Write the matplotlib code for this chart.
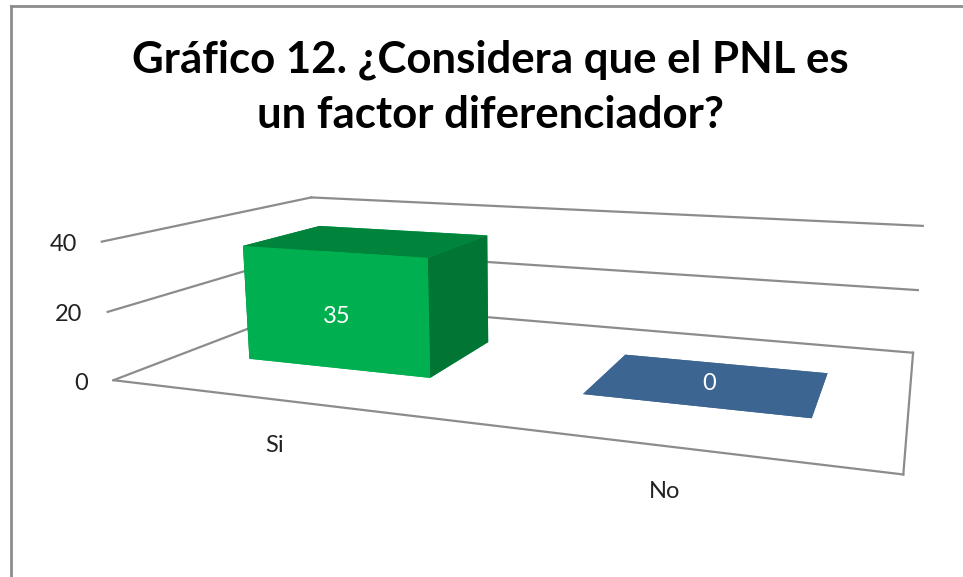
import matplotlib
matplotlib.use("Agg")
import matplotlib.pyplot as plt
from matplotlib.lines import Line2D
from matplotlib.transforms import offset_copy

# datos del gráfico
categories = ["Si", "No"]
values = [35, 0]
yticks = [0, 20, 40]
title_lines = ["Gráfico 12. ¿Considera que el PNL es", "un factor diferenciador?"]

front_colors = ["#00B050", "#3D6591"]
top_colors = ["#00843C", "#3D6591"]
side_colors = ["#007534", "#2E4D70"]
grid_color = "#8C8C8C"
text_color = "#222222"

plt.rcParams["font.family"] = ["Lato", "DejaVu Sans"]

W, H = 963, 577
fig = plt.figure(figsize=(W / 100, H / 100), dpi=100)

# ejes 3D cuadrados (lado S px)
S, cx, cy = 1000, 518, 314
ax = fig.add_axes([(cx - S / 2) / W, 1 - (cy + S / 2) / H, S / W, S / H],
                  projection="3d")
ax.set_proj_type("persp", focal_length=0.201)
ax.view_init(elev=12.2, azim=-70, roll=0)
ax.set_box_aspect((2, 1.03, 0.374), zoom=0.802)
nx = len(categories)
zmax = max(yticks)
ax.set_xlim(0, nx)
ax.set_ylim(0, 1)
ax.set_zlim(0, zmax)
ax.set_xticks([])
ax.set_yticks([])
ax.set_zticks([])
ax.set_axis_off()
ax.computed_zorder = False

# lineas de cuadricula: pared lateral y pared trasera
for v in yticks:
    ax.plot([0, 0], [0, 1], [v, v], color=grid_color, lw=1.6, zorder=1, clip_on=False)
    ax.plot([0, nx], [1, 1], [v, v], color=grid_color, lw=1.6, zorder=1, clip_on=False)
# borde del piso
ax.plot([0, nx], [0, 0], [0, 0], color=grid_color, lw=1.6, zorder=1, clip_on=False)
ax.plot([nx, nx], [0, 1], [0, 0], color=grid_color, lw=1.6, zorder=1, clip_on=False)

# barras 3D
bw, bd = 0.57, 0.4
xs = [i + 0.5 - bw / 2 for i in range(nx)]
ys = [0.5 - bd / 2] * nx
face_colors = []
for i in range(nx):
    # orden de caras en bar3d: -Z, +Z, -Y, +Y, -X, +X
    face_colors += [front_colors[i], top_colors[i], front_colors[i],
                    front_colors[i], side_colors[i], side_colors[i]]
bars = ax.bar3d(xs, ys, [0] * nx, [bw] * nx, [bd] * nx, values,
                color=face_colors, shade=False, zorder=3)
bars.set_clip_on(False)

# etiquetas del eje vertical
tick_tr = offset_copy(ax.transData, fig=fig, x=-25, y=-3, units="dots")
for v in yticks:
    ax.text(0, 0, v, str(v), ha="right", va="center", fontsize=17,
            color=text_color, transform=tick_tr, zorder=5, clip_on=False)

# etiquetas de categoria
cat_tr = offset_copy(ax.transData, fig=fig, x=0, y=-46, units="dots")
for i, c in enumerate(categories):
    ax.text(i + 0.5, 0, 0, c, ha="center", va="center", fontsize=17,
            color=text_color, transform=cat_tr, zorder=5, clip_on=False)

# etiquetas de datos (cara frontal, o cara superior si la barra es plana)
lbl_tr = offset_copy(ax.transData, fig=fig, x=2, y=-6, units="dots")
for i, v in enumerate(values):
    if v > 0:
        ax.text(i + 0.5, 0.5 - bd / 2, v / 2, str(v), ha="center", va="center",
                fontsize=17, color="white", transform=lbl_tr, zorder=6,
                clip_on=False)
    else:
        ax.text(i + 0.5, 0.5, 0, str(v), ha="center", va="center",
                fontsize=17, color="white", zorder=6, clip_on=False)

# titulo
fig.text(490 / W, 1 - 72 / H, title_lines[0], ha="center", va="baseline",
         fontsize=31.5, fontweight="bold", color="black")
fig.text(490 / W, 1 - 128 / H, title_lines[1], ha="center", va="baseline",
         fontsize=31.5, fontweight="bold", color="black")

# marco del grafico
bx, by = 11 / W, 1 - 6 / H
fig.add_artist(Line2D([bx, bx], [0, by], color="#8C8C8C", lw=2))
fig.add_artist(Line2D([bx, 1], [by, by], color="#8C8C8C", lw=2))

fig.savefig("out.png", dpi=100)
